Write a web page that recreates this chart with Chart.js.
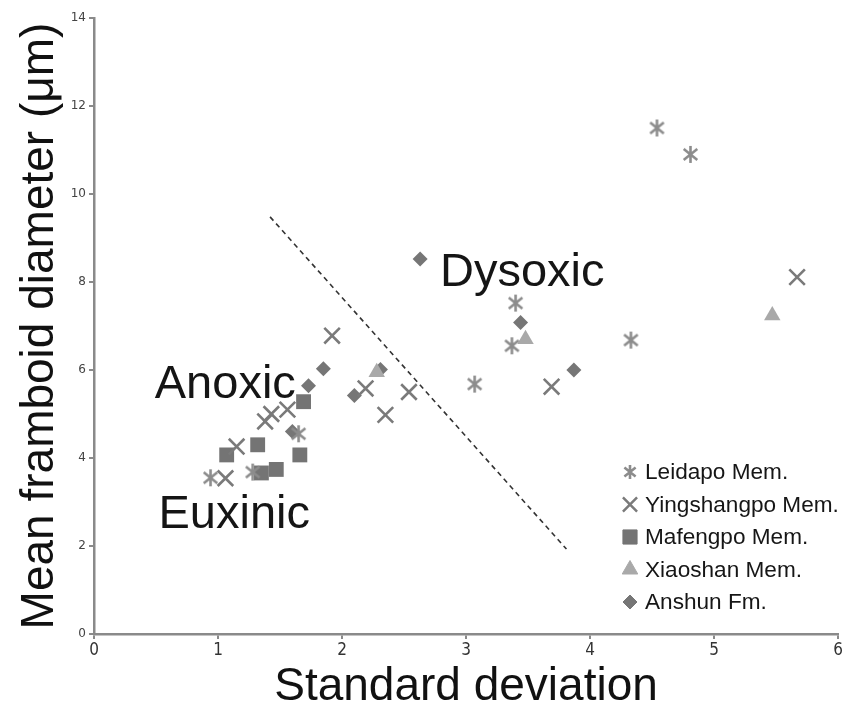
<!DOCTYPE html>
<html>
<head>
<meta charset="utf-8">
<script src="https://cdn.jsdelivr.net/npm/chart.js@4.4.1/dist/chart.umd.min.js"></script>
<style>
html,body{margin:0;padding:0;background:#fff;}
#wrap{width:843px;height:707px;}
</style>
</head>
<body>
<div id="wrap"><canvas id="c" width="843" height="707"></canvas></div>
<script>
// ---- Data ----
const seriesNames = ['Leidapo Mem.', 'Yingshangpo Mem.', 'Mafengpo Mem.', 'Xiaoshan Mem.', 'Anshun Fm.'];

const leidapoX = [4.54, 4.81, 3.40, 3.37, 4.33, 3.07, 0.94, 1.28, 1.65];
const leidapoY = [11.5, 10.9, 7.52, 6.55, 6.68, 5.68, 3.55, 3.68, 4.55];

const yingshangpoX = [5.67, 3.69, 2.54, 2.35, 2.19, 1.92, 1.15, 1.06, 1.38, 1.43, 1.56];
const yingshangpoY = [8.11, 5.62, 5.50, 4.98, 5.58, 6.78, 4.26, 3.54, 4.83, 5.00, 5.10];

const mafengpoX = [1.07, 1.32, 1.66, 1.47, 1.35, 1.69];
const mafengpoY = [4.07, 4.30, 4.07, 3.74, 3.66, 5.28];

const xiaoshanX = [5.47, 3.48, 2.28];
const xiaoshanY = [7.24, 6.70, 5.95];

const anshunX = [2.63, 3.44, 3.87, 2.31, 2.10, 1.85, 1.73, 1.60];
const anshunY = [8.52, 7.08, 6.00, 6.01, 5.42, 6.03, 5.64, 4.60];

const boundaryX = [1.42, 3.81];
const boundaryY = [9.48, 1.93];

const xTicks = [0, 1, 2, 3, 4, 5, 6];
const yTicks = [0, 2, 4, 6, 8, 10, 12, 14];

const zoneLabels = ['Dysoxic', 'Anoxic', 'Euxinic'];
const zoneLabelX = [2.79, 0.49, 0.52];
const zoneLabelY = [7.9, 5.36, 2.42];

// ---- helpers ----
const pts = (xs, ys) => xs.map((x, i) => ({x: x, y: ys[i]}));

function asteriskCanvas(size, color, lw) {
  const c = document.createElement('canvas');
  c.width = size; c.height = size;
  const g = c.getContext('2d');
  g.strokeStyle = color; g.lineWidth = lw; g.lineCap = 'butt';
  const m = size / 2, r = size / 2 - 1;
  g.beginPath();
  g.moveTo(m, m - r); g.lineTo(m, m + r);
  const d = r * 0.8;
  g.moveTo(m - d, m - d * 0.8); g.lineTo(m + d, m + d * 0.8);
  g.moveTo(m - d, m + d * 0.8); g.lineTo(m + d, m - d * 0.8);
  g.stroke();
  return c;
}

const colAst = '#8c8c8c', colX = '#7a7a7a', colSq = '#747474', colTri = '#a9a9a9', colDia = '#767676';
const astBig = asteriskCanvas(19, colAst, 2.6);
const astSmall = asteriskCanvas(16, colAst, 2.6);

const legendMarkers = [
  {style: astSmall, color: colAst, radius: 8, lw: 2},
  {style: 'crossRot', color: colX, radius: 10, lw: 2.5},
  {style: 'rect', color: colSq, radius: 10, lw: 1},
  {style: 'triangle', color: colTri, radius: 9, lw: 1},
  {style: 'rectRot', color: colDia, radius: 7, lw: 1}
];

const overlay = {
  id: 'overlay',
  afterDatasetsDraw(chart) {
    const {ctx, scales: {x, y}} = chart;
    ctx.save();
    // zone labels
    ctx.fillStyle = '#151515';
    ctx.font = '47px "Liberation Sans", Arial, sans-serif';
    ctx.textBaseline = 'alphabetic';
    ctx.textAlign = 'left';
    zoneLabels.forEach((t, i) => {
      ctx.fillText(t, x.getPixelForValue(zoneLabelX[i]), y.getPixelForValue(zoneLabelY[i]));
    });
    // legend
    const lx = 630, ly0 = 472, dy = 32.5;
    ctx.font = '22.6px "Liberation Sans", Arial, sans-serif';
    ctx.textBaseline = 'middle';
    seriesNames.forEach((name, i) => {
      const m = legendMarkers[i];
      const yy = ly0 + i * dy;
      ctx.fillStyle = m.color; ctx.strokeStyle = m.color; ctx.lineWidth = m.lw;
      Chart.helpers.drawPoint(ctx, {pointStyle: m.style, radius: m.radius, rotation: 0, borderWidth: m.lw}, lx, yy);
      ctx.fillStyle = '#161616';
      ctx.fillText(name, lx + 15, yy + 1);
    });
    ctx.restore();
  }
};

new Chart(document.getElementById('c'), {
  type: 'scatter',
  data: {
    datasets: [
      {label: seriesNames[0], data: pts(leidapoX, leidapoY), pointStyle: astBig, pointRadius: 9, backgroundColor: colAst, borderColor: colAst},
      {label: seriesNames[1], data: pts(yingshangpoX, yingshangpoY), pointStyle: 'crossRot', pointRadius: 11, borderWidth: 2.6, backgroundColor: colX, borderColor: colX},
      {label: seriesNames[2], data: pts(mafengpoX, mafengpoY), pointStyle: 'rect', pointRadius: 10.5, borderWidth: 0, backgroundColor: colSq, borderColor: colSq},
      {label: seriesNames[3], data: pts(xiaoshanX, xiaoshanY), pointStyle: 'triangle', pointRadius: 9.5, borderWidth: 0, backgroundColor: colTri, borderColor: colTri},
      {label: seriesNames[4], data: pts(anshunX, anshunY), pointStyle: 'rectRot', pointRadius: 7.5, borderWidth: 0, backgroundColor: colDia, borderColor: colDia},
      {type: 'line', label: 'boundary', data: pts(boundaryX, boundaryY), borderColor: '#333', borderWidth: 1.6, borderDash: [5, 4], pointRadius: 0, fill: false}
    ]
  },
  options: {
    responsive: false,
    animation: false,
    devicePixelRatio: 1,
    layout: {autoPadding: false, padding: {top: 18, right: 5, left: 0, bottom: 0}},
    plugins: {legend: {display: false}, tooltip: {enabled: false}},
    scales: {
      x: {
        type: 'linear', min: 0, max: 6,
        afterBuildTicks: s => { s.ticks = xTicks.map(v => ({value: v})); },
        afterFit: s => { s.height = 73; s.paddingLeft = 0; s.paddingRight = 0; },
        ticks: {color: '#333', font: {family: '"Liberation Sans Narrow", "DejaVu Sans Condensed", sans-serif', size: 17}, padding: 1},
        grid: {drawOnChartArea: false, drawTicks: true, tickLength: 5, color: '#8a8a8a', lineWidth: 2},
        border: {display: true, color: '#8a8a8a', width: 2.5},
        title: {display: true, text: 'Standard deviation', color: '#111',
          font: {family: '"Liberation Sans", Arial, sans-serif', size: 46, lineHeight: 0.85}, padding: {top: 0, bottom: 0}}
      },
      y: {
        type: 'linear', min: 0, max: 14,
        afterBuildTicks: s => { s.ticks = yTicks.map(v => ({value: v})); },
        afterFit: s => { s.width = 94; s.paddingTop = 0; s.paddingBottom = 0; },
        ticks: {color: '#444', font: {family: '"DejaVu Sans", sans-serif', size: 12}, padding: 3},
        grid: {drawOnChartArea: false, drawTicks: true, tickLength: 5, color: '#8a8a8a', lineWidth: 2},
        border: {display: true, color: '#8a8a8a', width: 2.5},
        title: {display: true, text: 'Mean framboid diameter (μm)', color: '#111',
          font: {family: '"Liberation Sans", Arial, sans-serif', size: 46, lineHeight: 1}, padding: {top: 17, bottom: 0}}
      }
    }
  },
  plugins: [overlay]
});
</script>
</body>
</html>
